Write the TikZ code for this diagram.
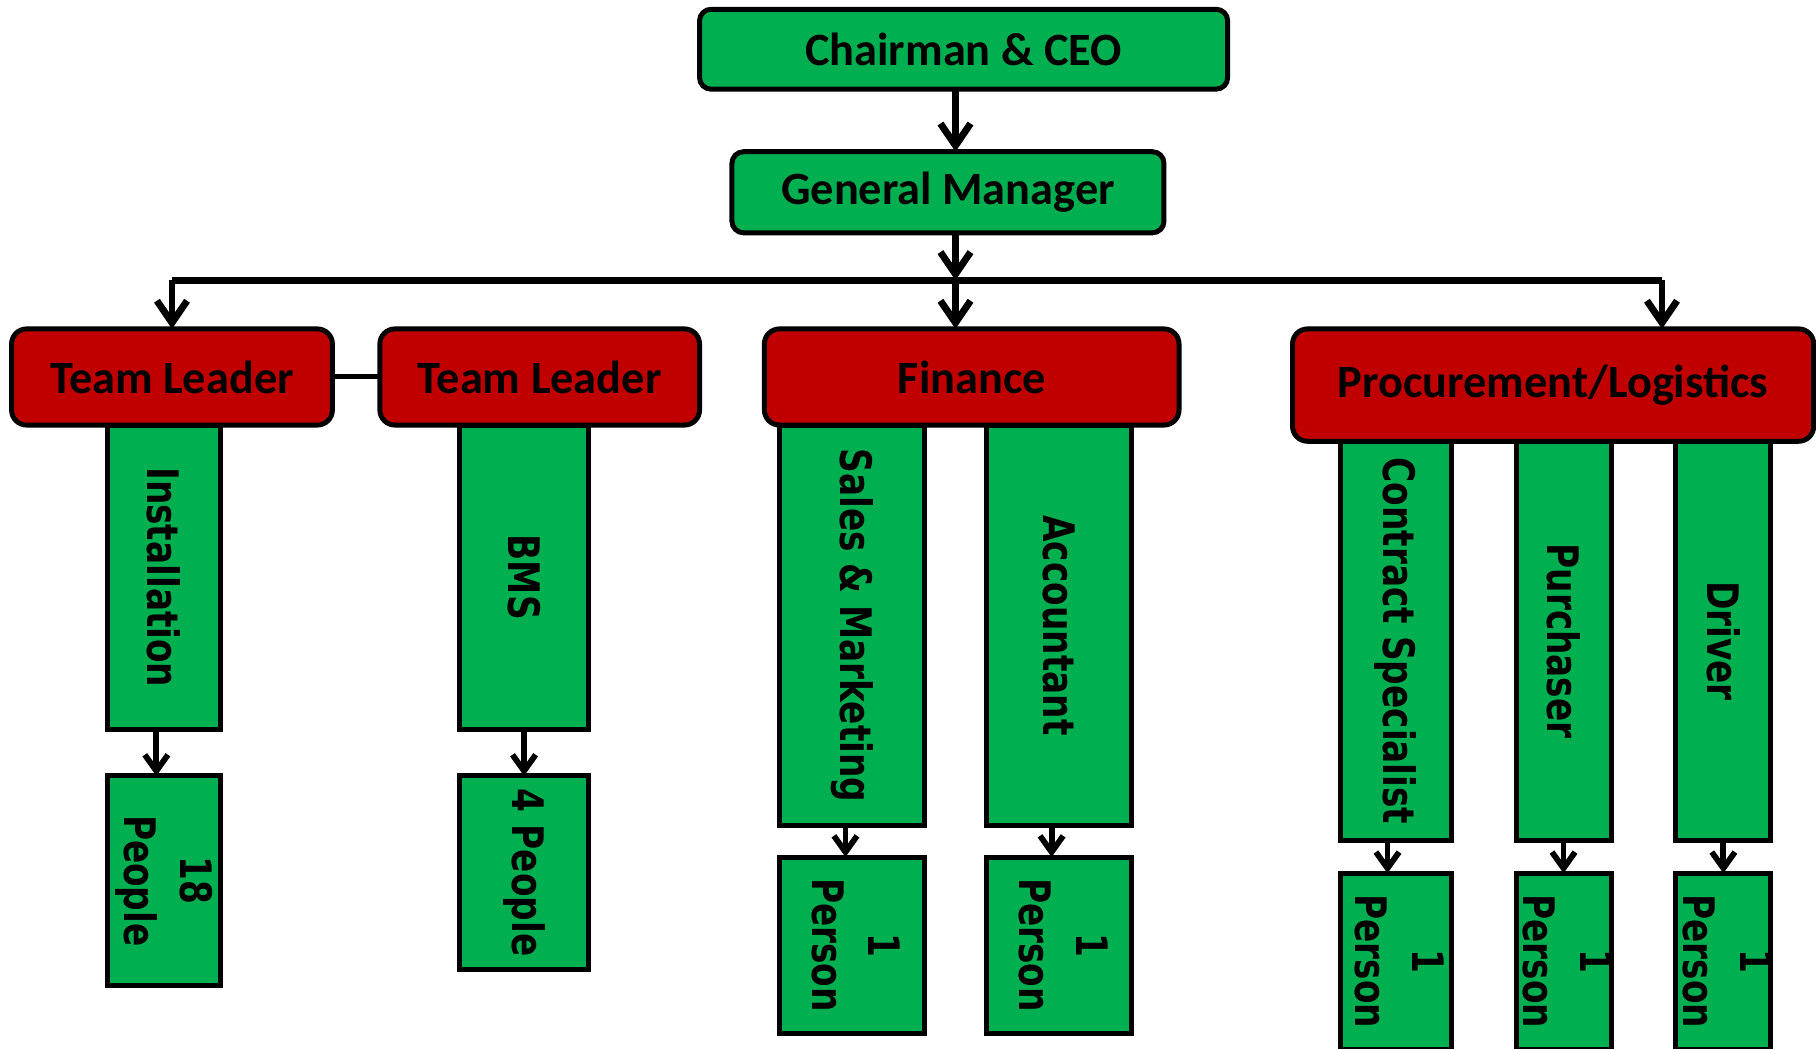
\documentclass[tikz,border=0pt]{standalone}
\usepackage{fontspec}
\usepackage{graphicx}
\usetikzlibrary{positioning,arrows.meta}
\newfontfamily\headfont{Carlito}
\newfontfamily\colfont[FakeStretch=0.79]{DejaVu Sans}
\definecolor{boxgreen}{RGB}{0,176,80}
\definecolor{boxred}{RGB}{192,0,0}
\newcommand{\countlabel}[1]{\makebox[0pt]{\rotatebox{-90}{\begin{tabular}{@{}c@{}}#1\end{tabular}}}}

\begin{document}
\begin{tikzpicture}[
    x=1pt, y=-1pt,
    node distance=40pt,
    topbox/.style={
        rectangle, draw=black, line width=4.3pt, rounded corners=10pt,
        fill=boxgreen, inner sep=0pt, outer sep=0pt, align=center,
        font=\headfont\bfseries\fontsize{40}{48}\selectfont
    },
    headbox/.style={topbox, fill=boxred, rounded corners=13pt},
    colbox/.style={
        rectangle, draw=black, line width=4.3pt, fill=boxgreen,
        inner sep=0pt, outer sep=0pt,
        font=\colfont\bfseries\fontsize{37.5}{49}\selectfont
    },
    arrow/.style={-{Straight Barb[length=19pt,width=26pt]}, line width=6pt},
    smallarrow/.style={-{Straight Barb[length=14pt,width=20pt]}, line width=5pt}
]
\useasboundingbox (0,0) rectangle (1568,905);

% top: chairman and general manager
\node[topbox, minimum width=456pt, minimum height=69pt] (chair) at (832,42.5) {Chairman \& CEO};
\node[topbox, minimum width=373pt, minimum height=70pt] (gm) at (818.5,166) {General Manager};

% departments
\node[headbox, minimum width=277pt, minimum height=83pt] (lead1) at (148.5,325.5) {Team Leader};
\node[headbox, minimum width=276pt, minimum height=83pt] (lead2) at (466,325.5) {Team Leader};
\node[headbox, minimum width=358pt, minimum height=83pt] (fin) at (839,325.5) {Finance};
\node[headbox, minimum width=450pt, minimum height=97pt] (proc) at (1341,332.5) {Procurement/Logistics};

% branch points
\coordinate (trunk) at (825,242);
\coordinate (rbranch) at (1435,242);

% roles
\node[colbox, minimum width=97pt, minimum height=263pt] (inst) at (141.5,498.5) {\rotatebox{-90}{Installation}};
\node[colbox, minimum width=111pt, minimum height=263pt] (bms) at (452.5,498.5) {\rotatebox{-90}{BMS}};
\node[colbox, minimum width=125pt, minimum height=346pt] (sales) at (735.5,540) {\rotatebox{-90}{Sales \& Marketing}};
\node[colbox, minimum width=125pt, minimum height=346pt] (acct) at (914.5,540) {\rotatebox{-90}{Accountant}};
\node[colbox, minimum width=96pt, minimum height=345pt] (contr) at (1205,553.5) {\rotatebox{-90}{Contract Specialist}};
\node[colbox, minimum width=82pt, minimum height=345pt] (purch) at (1350,553.5) {\rotatebox{-90}{Purchaser}};
\node[colbox, minimum width=82pt, minimum height=345pt] (drv) at (1488,553.5) {\rotatebox{-90}{Driver}};

% head counts
\node[colbox, minimum width=97pt, minimum height=181pt, below=40pt of inst] (inst-n) {\countlabel{18\\People}};
\node[colbox, minimum width=111pt, minimum height=167pt, below=40pt of bms] (bms-n) {\countlabel{4 People}};
\node[colbox, minimum width=125pt, minimum height=152pt, below=27pt of sales] (sales-n) {\countlabel{1\\Person}};
\node[colbox, minimum width=125pt, minimum height=152pt, below=27pt of acct] (acct-n) {\countlabel{1\\Person}};
\node[colbox, minimum width=96pt, minimum height=152pt, below=28pt of contr] (contr-n) {\countlabel{1\\Person}};
\node[colbox, minimum width=82pt, minimum height=152pt, below=28pt of purch] (purch-n) {\countlabel{1\\Person}};
\node[colbox, minimum width=82pt, minimum height=152pt, below=28pt of drv] (drv-n) {\countlabel{1\\Person}};

% arrows
\draw[arrow] (chair.south -| trunk) -- (gm.north -| trunk);
\draw[arrow] (gm.south -| trunk) -- (trunk);
\draw[line width=6pt] (lead1.north |- trunk) -- (rbranch);
\draw[arrow] (trunk) -- (fin.north -| trunk);
\draw[arrow] (lead1.north |- trunk) -- (lead1.north);
\draw[arrow] (rbranch) -- (proc.north -| rbranch);
\draw[line width=4.3pt] (lead1.east) -- (lead2.west);

\draw[smallarrow] ([xshift=-6.5pt]inst.south) -- ([xshift=-6.5pt]inst-n.north);
\draw[smallarrow] (bms.south) -- (bms-n.north);
\draw[smallarrow] ([xshift=-5.5pt]sales.south) -- ([xshift=-5.5pt]sales-n.north);
\draw[smallarrow] ([xshift=-6.5pt]acct.south) -- ([xshift=-6.5pt]acct-n.north);
\draw[smallarrow] ([xshift=-7pt]contr.south) -- ([xshift=-7pt]contr-n.north);
\draw[smallarrow] (purch.south) -- (purch-n.north);
\draw[smallarrow] (drv.south) -- (drv-n.north);

\end{tikzpicture}
\end{document}
